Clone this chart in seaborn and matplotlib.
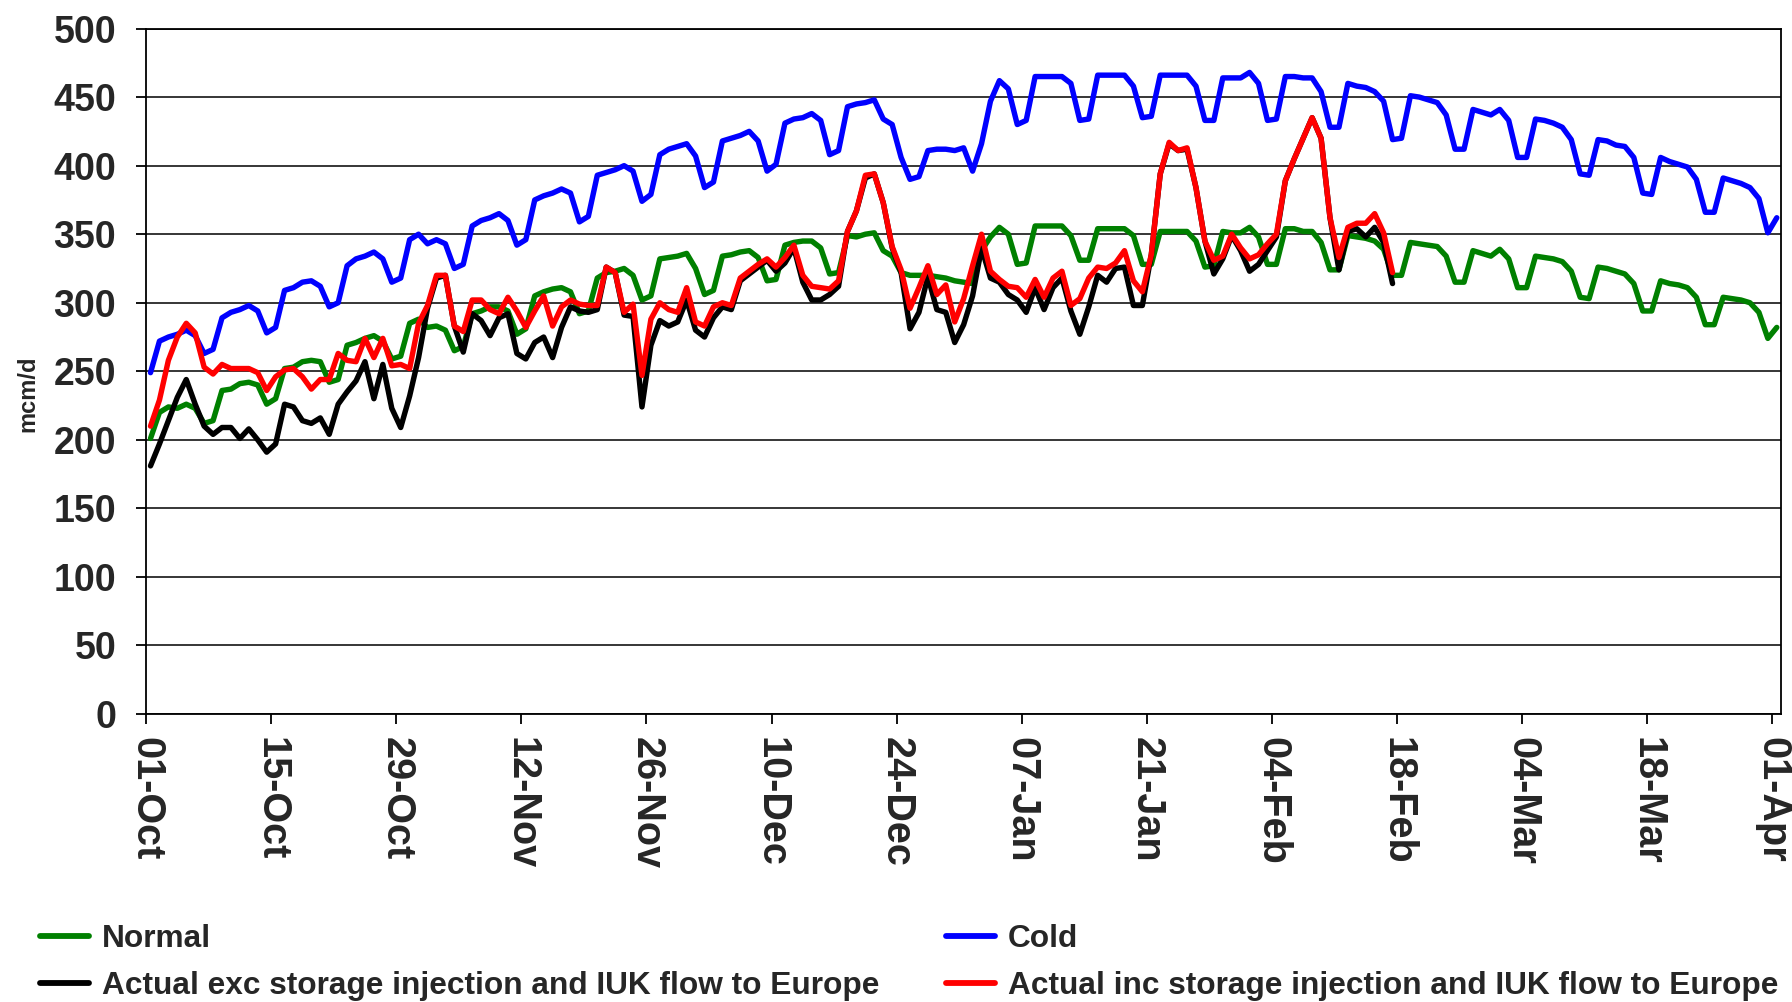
import pandas as pd
import seaborn as sns
import matplotlib
matplotlib.use("Agg")
import matplotlib.pyplot as plt
from matplotlib.lines import Line2D

# Daily gas demand, winter 2006/07 (mcm/d)
start_date = "2006-10-01"

normal = [
    201, 220, 224, 223, 226, 223, 212, 214, 236, 237, 241, 242, 240, 226,
    230, 252, 253, 257, 258, 257, 242, 244, 269, 271, 274, 276, 272, 259,
    261, 285, 288, 282, 283, 280, 265, 268, 292, 294, 297, 297, 294, 277,
    281, 305, 308, 310, 311, 308, 292, 294, 318, 322, 323, 325, 320, 302,
    305, 332, 333, 334, 336, 325, 306, 309, 334, 335, 337, 338, 333, 316,
    317, 342, 344, 345, 345, 340, 321, 322, 349, 348, 350, 351, 338, 334,
    322, 320, 320, 320, 319, 318, 316, 315, 314, 338, 348, 355, 350, 328,
    329, 356, 356, 356, 356, 349, 331, 331, 354, 354, 354, 354, 349, 328,
    328, 352, 352, 352, 352, 345, 326, 327, 352, 351, 351, 355, 348, 328,
    328, 354, 354, 352, 352, 344, 324, 324, 349, 348, 347, 345, 339, 320,
    320, 344, 343, 342, 341, 334, 315, 315, 338, 336, 334, 339, 332, 311,
    311, 334, 333, 332, 330, 323, 304, 303, 326, 325, 323, 321, 314, 294,
    294, 316, 314, 313, 311, 304, 284, 284, 304, 303, 302, 300, 293, 274,
    282,
]

cold = [
    249, 272, 275, 277, 280, 276, 263, 266, 289, 293, 295, 298, 294, 278,
    282, 309, 311, 315, 316, 312, 297, 300, 327, 332, 334, 337, 332, 315,
    318, 346, 350, 343, 346, 343, 325, 328, 356, 360, 362, 365, 360, 342,
    346, 375, 378, 380, 383, 380, 359, 363, 393, 395, 397, 400, 396, 374,
    379, 408, 412, 414, 416, 407, 384, 388, 418, 420, 422, 425, 418, 396,
    401, 431, 434, 435, 438, 433, 408, 411, 443, 445, 446, 448, 434, 430,
    406, 390, 392, 411, 412, 412, 411, 413, 396, 416, 447, 462, 456, 430,
    433, 465, 465, 465, 465, 460, 433, 434, 466, 466, 466, 466, 458, 435,
    436, 466, 466, 466, 466, 458, 433, 433, 464, 464, 464, 468, 460, 433,
    434, 465, 465, 464, 464, 454, 428, 428, 460, 458, 457, 454, 447, 419,
    420, 451, 450, 448, 446, 437, 412, 412, 441, 439, 437, 441, 433, 406,
    406, 434, 433, 431, 428, 419, 394, 393, 419, 418, 415, 414, 406, 380,
    379, 406, 403, 401, 399, 390, 366, 366, 391, 389, 387, 384, 376, 351,
    362,
]

actual_exc = [
    181, 197, 214, 231, 244, 226, 210, 204, 209, 209, 201, 208, 200, 191,
    197, 226, 224, 214, 212, 216, 204, 226, 235, 243, 257, 230, 255, 223,
    209, 232, 260, 296, 318, 320, 283, 264, 292, 287, 276, 289, 292, 263,
    259, 271, 275, 260, 282, 297, 294, 293, 295, 326, 322, 291, 290, 224,
    269, 287, 283, 286, 302, 280, 275, 289, 297, 295, 316, 321, 326, 331,
    323, 329, 340, 315, 302, 302, 306, 312, 352, 367, 391, 394, 373, 340,
    322, 281, 293, 319, 295, 293, 271, 284, 305, 340, 318, 315, 306, 302,
    293, 311, 295, 311, 318, 294, 277, 297, 320, 315, 325, 326, 298, 298,
    335, 394, 416, 411, 412, 384, 345, 321, 332, 349, 338, 323, 328, 338,
    348, 389, 405, 420, 435, 420, 362, 324, 352, 354, 348, 355, 344, 314,
]

actual_inc = [
    210, 229, 258, 275, 285, 278, 253, 248, 255, 252, 252, 252, 249, 236,
    246, 251, 252, 246, 237, 244, 244, 263, 258, 257, 274, 260, 274, 254,
    255, 252, 285, 298, 320, 320, 283, 279, 302, 302, 295, 292, 304, 294,
    282, 294, 305, 283, 297, 302, 299, 298, 298, 326, 322, 293, 299, 247,
    288, 300, 295, 293, 311, 286, 283, 297, 300, 298, 318, 323, 328, 332,
    326, 333, 342, 320, 312, 311, 310, 316, 352, 367, 393, 394, 373, 341,
    324, 296, 311, 327, 306, 313, 286, 303, 327, 350, 323, 317, 312, 311,
    304, 317, 304, 318, 323, 298, 303, 318, 326, 325, 329, 338, 316, 308,
    335, 394, 417, 411, 413, 384, 345, 331, 334, 350, 340, 332, 335, 343,
    350, 389, 405, 420, 435, 420, 362, 333, 355, 358, 358, 365, 351, 322,
]

series_names = [
    "Normal",
    "Cold",
    "Actual exc storage injection and IUK flow to Europe",
    "Actual inc storage injection and IUK flow to Europe",
]
series_colors = ["#008000", "#0000FF", "#000000", "#FF0000"]
tick_dates = pd.date_range("2006-10-01", "2007-04-01", freq="14D")
y_ticks = list(range(0, 501, 50))


def main():
    # i valori giornalieri stanno al centro della giornata (asse "tra le categorie")
    days = pd.date_range(start_date, periods=len(cold)) + pd.Timedelta(hours=12)
    frames = []
    for name, vals in zip(series_names, [normal, cold, actual_exc, actual_inc]):
        frames.append(pd.DataFrame({"Date": days[:len(vals)], "Value": vals, "Series": name}))
    df = pd.concat(frames, ignore_index=True)

    sns.set_theme(style="white")
    plt.rcParams["font.family"] = ["Liberation Sans", "DejaVu Sans"]
    plt.rcParams["font.weight"] = "bold"

    fig = plt.figure(figsize=(17.92, 10.02), dpi=100)
    ax = fig.add_axes([0.0815, 0.2874, 0.9125, 0.6841])

    palette = dict(zip(series_names, series_colors))
    sns.lineplot(
        data=df, x="Date", y="Value", hue="Series", hue_order=series_names,
        palette=palette, linewidth=3.9, estimator=None, legend=False, ax=ax,
    )

    ax.set_xlim(pd.Timestamp(start_date), pd.Timestamp(start_date) + pd.Timedelta(days=len(cold)))
    ax.set_ylim(0, 500)
    ax.set_yticks(y_ticks)
    ax.set_yticklabels([str(v) for v in y_ticks], fontsize=27, fontweight="bold")
    ax.set_xticks(tick_dates)
    ax.set_xticklabels([d.strftime("%d-%b") for d in tick_dates], rotation=270,
                       fontsize=28.5, fontweight="bold", ha="center", va="top")

    ax.grid(axis="y", color="black", linewidth=1.1)
    ax.grid(axis="x", visible=False)
    ax.set_axisbelow(True)
    for side in ["left", "right", "top", "bottom"]:
        ax.spines[side].set_color("black")
        ax.spines[side].set_linewidth(1.3)
    ax.tick_params(axis="both", direction="out", length=7, width=1.3, color="black",
                   bottom=True, left=True)
    ax.tick_params(axis="y", pad=14.5)
    ax.tick_params(axis="x", pad=9.5)

    ax.set_xlabel("")
    ax.set_ylabel("mcm/d", fontsize=17, fontweight="bold", va="center")
    ax.yaxis.set_label_coords(-0.072, 0.467)

    # legenda a due colonne sotto il grafico
    handles = [Line2D([0], [0], color=c, linewidth=4.2) for c in series_colors]
    order = [0, 2, 1, 3]
    fig.legend(
        [handles[i] for i in order], [series_names[i] for i in order],
        ncol=2, loc="upper left", bbox_to_anchor=(0.0223, 0.0778),
        frameon=False, fontsize=22.8, handlelength=1.55, handletextpad=0.4,
        columnspacing=2.12, labelspacing=0.55, borderpad=0, borderaxespad=0,
    )

    fig.savefig("out.png", dpi=100)
    plt.close(fig)


if __name__ == "__main__":
    main()
